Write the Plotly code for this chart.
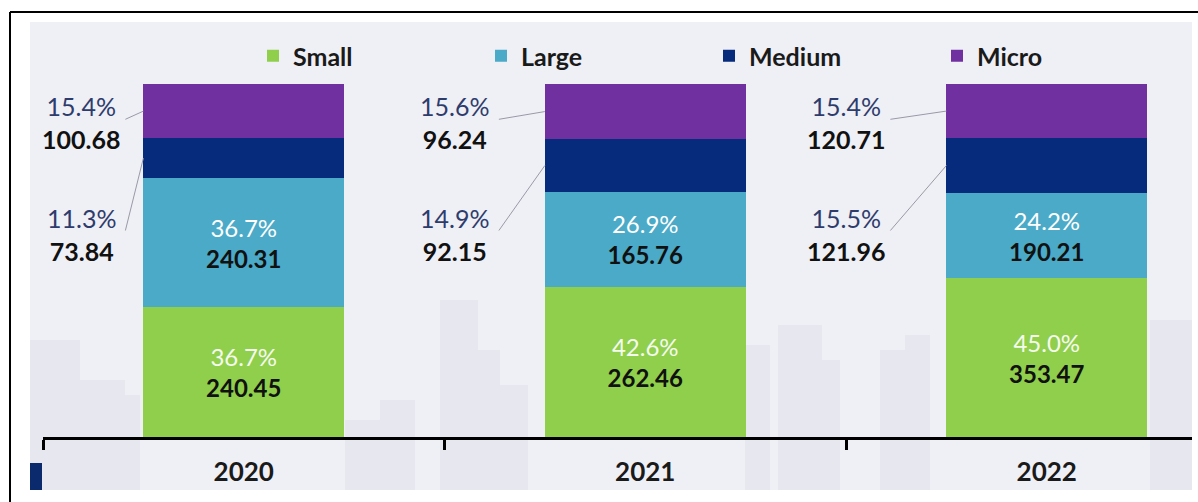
import plotly.graph_objects as go

W, H = 1198, 502
FONT = "Lato"

years = ["2020", "2021", "2022"]
small = [240.45, 262.46, 353.47]
large = [240.31, 165.76, 190.21]
medium = [73.84, 92.15, 121.96]
micro = [100.68, 96.24, 120.71]

small_pct = ["36.7%", "42.6%", "45.0%"]
large_pct = ["36.7%", "26.9%", "24.2%"]
medium_pct = ["11.3%", "14.9%", "15.5%"]
micro_pct = ["15.4%", "15.6%", "15.4%"]

colors = {
    "Small": "#8fcf4c",
    "Large": "#4aaac8",
    "Medium": "#062a7c",
    "Micro": "#7030a0",
}

# pixel geometry of the plot area
X0_PX, X1_PX = 43, 1192
Y0_PX, Y1_PX = 437, 84
PXU = 401.5  # pixels per category
BAR_W = 0.5


def px(x):
    return x / W


def py(y):
    return (H - y) / H


xpos = list(range(len(years)))

fig = go.Figure()


def inside_text(pcts, vals, pct_color):
    return [f"<span style='color:{pct_color}'>{p}</span><br><b>{v:.2f}</b>"
            for p, v in zip(pcts, vals)]


fig.add_trace(go.Bar(
    x=xpos, y=small, name="Small", marker_color=colors["Small"],
    text=inside_text(small_pct, small, "#f6fbef"),
))
fig.add_trace(go.Bar(
    x=xpos, y=large, name="Large", marker_color=colors["Large"],
    text=inside_text(large_pct, large, "#ffffff"),
))
fig.add_trace(go.Bar(x=xpos, y=medium, name="Medium", marker_color=colors["Medium"]))
fig.add_trace(go.Bar(x=xpos, y=micro, name="Micro", marker_color=colors["Micro"]))

fig.update_traces(
    selector=dict(type="bar"),
    width=BAR_W, marker_line_width=0,
    textposition="inside", insidetextanchor="middle",
    textfont=dict(family=FONT, size=24, color="#111111"),
    constraintext="none",
)

# outside labels + leader lines for Medium and Micro
label_dx = [62, 90, 100]  # px left of bar edge to label centre
MICRO_LABEL_Y = 89
MEDIUM_LABEL_Y = 57.5
annotations = []
for i in xpos:
    tot = small[i] + large[i] + medium[i] + micro[i]
    p_micro = micro[i] / tot * 100
    p_medium = medium[i] / tot * 100
    mid_micro = 100 - p_micro / 2
    mid_medium = 100 - p_micro - p_medium / 2
    edge = i - BAR_W / 2
    lab_x = edge - label_dx[i] / PXU
    for pct, val, ly, mid in [
        (micro_pct[i], micro[i], MICRO_LABEL_Y, mid_micro),
        (medium_pct[i], medium[i], MEDIUM_LABEL_Y, mid_medium),
    ]:
        annotations.append(dict(
            x=lab_x, y=ly, xref="x", yref="y", showarrow=False,
            text=f"{pct}<br><span style='color:#111111'><b>{val:.2f}</b></span>",
            font=dict(family=FONT, size=25, color="#2e3c6c"),
            align="center", xanchor="center", yanchor="middle",
        ))
        fig.add_trace(go.Scatter(
            x=[lab_x + 44 / PXU, edge], y=[ly + 1, mid],
            mode="lines", line=dict(color="#9a9aa6", width=1),
            showlegend=False, hoverinfo="skip",
        ))

# background decoration: panel, frame and faint skyline
shapes = [
    dict(type="rect", xref="paper", yref="paper", x0=px(30), x1=px(1192),
         y0=py(490), y1=py(22), fillcolor="#efeff6", line_width=0, layer="below"),
]
buildings = [(30, 80, 340), (80, 125, 380), (125, 140, 395), (345, 380, 420),
             (380, 415, 400), (440, 478, 300), (478, 500, 350), (500, 528, 385),
             (745, 770, 345), (778, 822, 325), (822, 840, 360), (880, 905, 350),
             (905, 930, 335), (1150, 1192, 320)]
for bx0, bx1, top in buildings:
    shapes.append(dict(type="rect", xref="paper", yref="paper", x0=px(bx0), x1=px(bx1),
                       y0=py(490), y1=py(top), fillcolor="rgba(190,190,205,0.16)",
                       line_width=0, layer="below"))
shapes += [
    dict(type="line", xref="paper", yref="paper", x0=px(10), x1=px(10),
         y0=py(12), y1=0, line=dict(color="#000000", width=2)),
    dict(type="line", xref="paper", yref="paper", x0=px(10), x1=1,
         y0=py(12), y1=py(12), line=dict(color="#000000", width=2)),
    dict(type="rect", xref="paper", yref="paper", x0=px(30), x1=px(42),
         y0=py(490), y1=py(463), fillcolor="#0b2a6e", line_width=0),
]

fig.update_layout(
    width=W, height=H, autosize=False,
    margin=dict(l=0, r=0, t=0, b=0),
    paper_bgcolor="#ffffff", plot_bgcolor="rgba(0,0,0,0)",
    barmode="stack", barnorm="percent",
    shapes=shapes, annotations=annotations,
    legend=dict(
        orientation="h", x=px(253), y=py(56), xanchor="left", yanchor="middle",
        entrywidth=183, entrywidthmode="pixels", bgcolor="rgba(0,0,0,0)",
        font=dict(family=FONT, size=25, color="#1a1a1a", weight="bold"),
        itemwidth=30, traceorder="normal",
    ),
    xaxis=dict(
        domain=[px(X0_PX), px(X1_PX)],
        range=[-0.5, -0.5 + (X1_PX - X0_PX) / PXU],
        tickvals=xpos, ticktext=years, ticks="",
        tickfont=dict(family=FONT, size=26, color="#1a1a1a", weight="bold"),
        ticklabelstandoff=10,
        showline=True, linecolor="#000000", linewidth=3,
        showgrid=False, zeroline=False,
        minor=dict(tick0=-0.5, dtick=1, ticks="outside", ticklen=10,
                   tickwidth=3, tickcolor="#000000", showgrid=False),
    ),
    yaxis=dict(
        domain=[py(Y0_PX), py(Y1_PX)], range=[0, 100],
        visible=False, showgrid=False, zeroline=False,
    ),
    showlegend=True,
)

fig.write_html("out.html", config={"displayModeBar": False},
               post_script="document.body.style.margin='0';")
